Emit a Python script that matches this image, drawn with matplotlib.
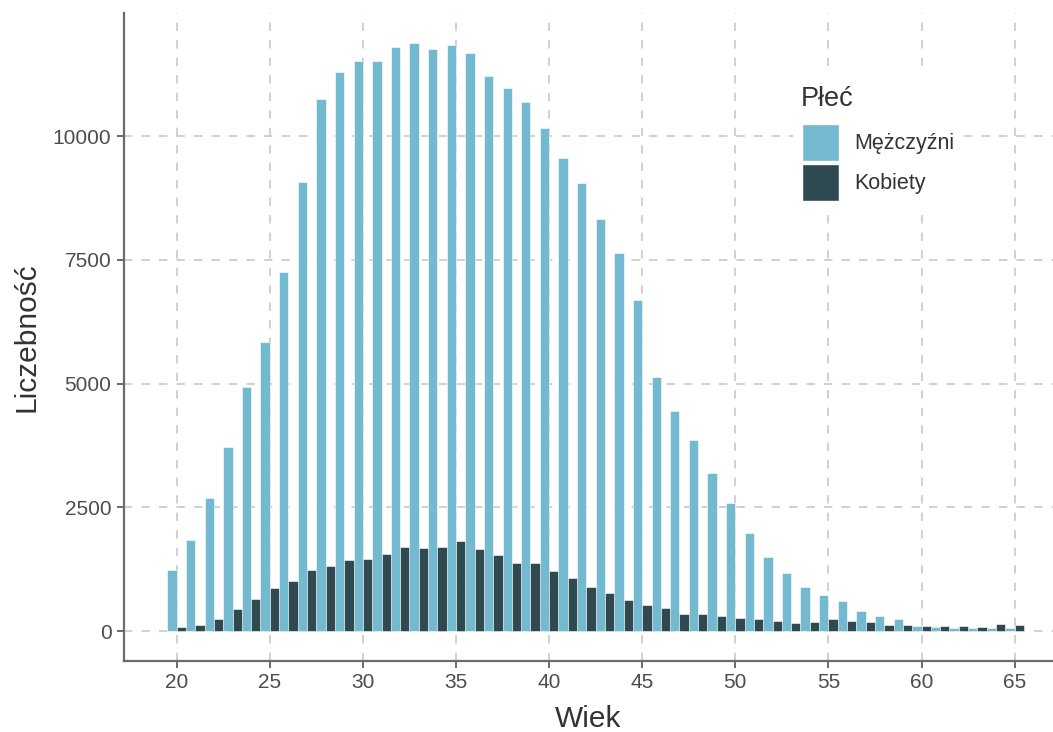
import numpy as np
import matplotlib
matplotlib.use("Agg")
import matplotlib.pyplot as plt
from matplotlib.patches import Patch, Rectangle

plt.rcParams['font.family'] = ['Liberation Sans', 'DejaVu Sans']

# ---- dane ----
wiek = list(range(20, 66))
mezczyzni = [1233, 1839, 2694, 3719, 4931, 5841, 7262, 9081, 10752, 11303,
             11530, 11520, 11803, 11890, 11756, 11849, 11675, 11223, 10974, 10685,
             10160, 9566, 9048, 8327, 7633, 6696, 5133, 4446, 3860, 3200,
             2587, 1987, 1505, 1179, 883, 721, 606, 404, 310, 236,
             108, 81, 67, 54, 54, 67]
kobiety = [75, 121, 243, 438, 640, 876, 1017, 1233, 1314, 1435,
           1449, 1550, 1704, 1671, 1691, 1819, 1664, 1536, 1381, 1368,
           1219, 1065, 889, 761, 626, 519, 472, 350, 337, 310,
           256, 236, 212, 168, 182, 249, 202, 182, 121, 121,
           101, 101, 101, 81, 141, 115]
etykiety = ['Mężczyźni', 'Kobiety']
kolory = ['#73b9cf', '#2f4951']

x_ticks = [20, 25, 30, 35, 40, 45, 50, 55, 60, 65]
y_ticks = [0, 2500, 5000, 7500, 10000]

W, H = 1053, 732

# ---- wykres ----
fig = plt.figure(figsize=(W / 100, H / 100), dpi=100)
ax = fig.add_axes([124 / W, 1 - 660.7 / H, 1 - 124 / W, (660.7 - 13.3) / H])

x = np.array(wiek)
ax.bar(x - 0.25, mezczyzni, width=0.5, color=kolory[0], edgecolor='white', linewidth=0.4, zorder=2)
ax.bar(x + 0.25, kobiety, width=0.5, color=kolory[1], edgecolor='white', linewidth=0.4, zorder=2)

ax.set_xlim(17.17, 67.06)
ax.set_ylim(-600, 12485)
ax.set_xticks(x_ticks)
ax.set_yticks(y_ticks)

ax.grid(True, color='#c8c8c8', linestyle=(0, (5.0, 5.5)), linewidth=1.2, zorder=0)
ax.set_axisbelow(True)

for s in ['top', 'right']:
    ax.spines[s].set_visible(False)
for s in ['left', 'bottom']:
    ax.spines[s].set_color('#6b6b6b')
    ax.spines[s].set_linewidth(1.6)

ax.tick_params(axis='both', colors='#6b6b6b', length=5, width=1.4, labelsize=15,
               labelcolor='#4d4d4d', pad=4)

ax.set_xlabel('Wiek', fontsize=21.5, color='#333333', labelpad=9)
ax.set_ylabel('Liczebność', fontsize=21.5, color='#333333', labelpad=9)

# legenda: białe tło, tytuł i klucze
fig.add_artist(Rectangle((793 / W, 1 - 207 / H), 167 / W, 135 / H,
                         transform=fig.transFigure, facecolor='white',
                         edgecolor='none', zorder=3))
fig.text(801 / W, 1 - 105.7 / H, 'Płeć', fontsize=19.5, color='#333333',
         ha='left', va='baseline', zorder=4)

handles = [Patch(facecolor=kolory[0], edgecolor='white', linewidth=1),
           Patch(facecolor=kolory[1], edgecolor='white', linewidth=1)]
leg = fig.legend(handles, etykiety, loc='upper left',
                 bbox_to_anchor=(801.7 / W, 1 - 124 / H),
                 fontsize=15.5, frameon=False,
                 handlelength=1.75, handleheight=2.25, labelspacing=0.17,
                 handletextpad=0.7, borderpad=0, borderaxespad=0)
leg.set_zorder(5)
for t in leg.get_texts():
    t.set_color('#333333')

fig.savefig('out.png', dpi=100)
